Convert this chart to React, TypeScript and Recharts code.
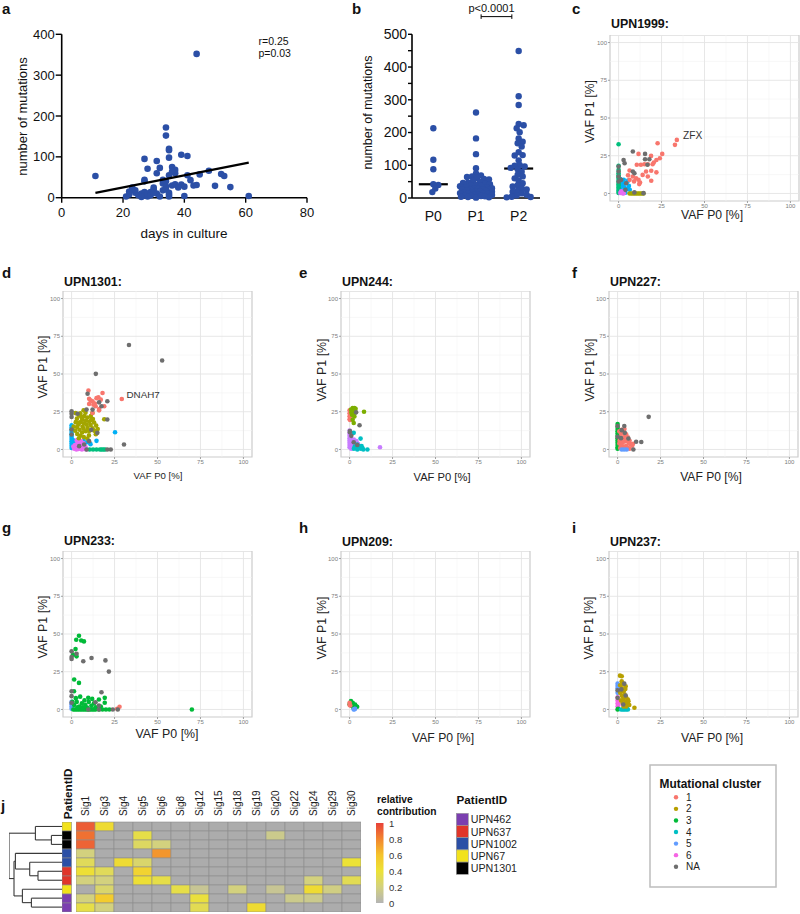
import React from 'react';
import {
  ScatterChart, Scatter, XAxis, YAxis, ReferenceLine, ReferenceArea, BarChart, Bar, Cell,
} from 'recharts';

const FONT = '"Liberation Sans", Arial, Helvetica, sans-serif';
const BLUE = '#2b4fa6';

// ---- panel a: mutations vs days in culture
const cultureDays = [11, 44, 34, 34, 35, 35, 35, 27, 31, 39, 41, 28, 32, 36, 37, 37, 36, 31, 35, 41, 45, 48, 52, 53, 27, 27, 33, 34, 39, 42, 40, 43, 44, 50, 55, 61, 40, 21, 22, 23, 23, 24, 25, 26, 27, 27, 28, 28, 29, 30, 30, 31, 32, 33, 33, 34, 35, 35, 35, 36, 37, 22, 26, 29, 30, 34, 24, 38];
const mutationCount = [53, 352, 172, 152, 120, 116, 98, 95, 90, 105, 102, 71, 73, 75, 68, 60, 64, 60, 55, 55, 57, 66, 58, 53, 44, 40, 44, 40, 32, 43, 27, 30, 31, 29, 26, 4, 4, 3, 15, 20, 25, 12, 6, 10, 14, 5, 3, 10, 14, 20, 25, 10, 3, 18, 35, 20, 8, 12, 3, 30, 33, 8, 2, 6, 12, 28, 18, 25];
const fitDays = [11, 61];
const fitCounts = [12, 86];

// ---- panel b: mutations per passage
const passageNames = ['P0', 'P1', 'P2'];
const mutP0 = [213, 117, 88, 40, 42, 18, 29];
const mutP1 = [261, 182, 134, 91, 75, 69, 66, 64, 61, 58, 57, 52, 50, 47, 46, 44, 42, 41, 38, 37, 36, 33, 32, 30, 29, 28, 27, 26, 26, 25, 24, 22, 21, 20, 19, 18, 17, 15, 14, 14, 12, 11, 10, 9, 8, 7, 6, 5, 4, 3, 2, 1];
const mutP2 = [449, 311, 284, 226, 222, 213, 201, 182, 172, 167, 157, 140, 131, 130, 115, 101, 99, 96, 92, 88, 80, 71, 66, 60, 53, 45, 39, 35, 30, 26, 22, 19, 14, 10, 8, 4, 3, 2];

// ---- panels c-i: VAF P0 vs VAF P1, [vafP0, vafP1, cluster]
type Pt = [number, number, string];
const upn1999: Pt[] = [
  [33.9, 35.5, '1'], [32.8, 32.2, '1'], [22.7, 33.3, '1'], [25.4, 26.2, '1'], [24, 23.3, '1'], [22, 22.2, '1'], [18.9, 24.9, '1'], [11.6, 26.2, '1'], [19.8, 19.4, '1'], [17, 19.4, '1'], [15, 19.4, '1'], [13, 19, '1'], [10.6, 19, '1'], [16, 14.5, '1'], [19, 15, '1'], [22, 14, '1'], [19, 8.4, '1'], [8.3, 11.2, '1'], [10.2, 10, '1'], [11.6, 9, '1'], [12.5, 7.3, '1'], [9, 8, '1'], [6.4, 9, '1'], [6.4, 15.2, '1'], [14, 12.3, '1'], [17, 11.2, '1'], [12, 6.2, '1'], [20.5, 20.5, '1'], [5.5, 12, '1'],
  [8.3, 27.8, 'NA'], [3.5, 20, 'NA'], [2.9, 22.2, 'NA'], [15.4, 26.2, 'NA'], [15.4, 22.7, 'NA'], [17.9, 22.7, 'NA'], [16.8, 19, 'NA'], [9.2, 13.4, 'NA'], [8.3, 14.5, 'NA'], [4, 2.4, 'NA'], [9.2, 0.7, 'NA'], [14.5, 0.2, 'NA'], [1.5, 9, 'NA'], [0, 17.8, 'NA'], [0, 14.5, 'NA'], [0, 11.2, 'NA'], [0, 8, 'NA'], [4.4, 6.8, 'NA'],
  [0, 32.6, '3'], [0, 18.3, '3'], [0, 15.6, '3'], [0, 13.4, '3'], [0, 12, '3'], [0, 10.5, '3'], [0, 9.5, '3'], [0, 8.2, '3'], [0, 7, '3'], [0, 6, '3'], [0, 5, '3'], [0, 4, '3'], [0, 3, '3'], [0, 2, '3'], [0, 1, '3'], [0, 0.3, '3'],
  [1, 9.5, '4'], [2, 8, '4'], [3, 9, '4'], [4.5, 7, '4'], [5.5, 8.5, '4'], [1.5, 6, '4'], [2.5, 5, '4'], [3.5, 4, '4'], [5, 3, '4'], [6, 5, '4'], [1, 3, '4'], [2, 2, '4'], [3, 1, '4'], [4, 0.5, '4'], [2.8, 6.5, '4'], [6.5, 2.5, '4'],
  [6.4, 0, '2'], [7.5, 0, '2'], [8.5, 0, '2'], [9.5, 0, '2'], [10.5, 0, '2'], [11.5, 0, '2'], [12.5, 0, '2'], [13.5, 0, '2'], [14.5, 0, '2'],
  [1, 0.3, '5'], [2, 0.8, '5'], [3, 0.2, '5'], [1.5, 1.4, '5'], [2.5, 0, '5'],
];
const upn1301: Pt[] = [
  [33.4, 69.2, 'NA'], [52.7, 58.9, 'NA'], [14.1, 50.1, 'NA'], [9.3, 36.9, 'NA'], [16, 31.2, 'NA'], [20.8, 31.9, 'NA'], [17.4, 28.6, 'NA'], [12.2, 26.4, 'NA'], [8.7, 26.4, 'NA'], [0, 25.3, 'NA'], [0, 23.7, 'NA'], [3.5, 23.7, 'NA'], [20.8, 19.8, 'NA'], [15, 11, 'NA'], [30.5, 3.3, 'NA'], [20.8, 0, 'NA'], [22.8, 0, 'NA'], [8.7, 0, 'NA'], [4.4, 2.2, 'NA'], [7.3, 3.3, 'NA'], [10.2, 5.5, 'NA'], [0, 13.2, 'NA'], [0, 9.9, 'NA'], [0, 21.5, 'NA'], [11.5, 13, 'NA'],
  [9.8, 39.1, '1'], [18, 37.4, '1'], [29.2, 33.4, '1'], [10.2, 33.6, '1'], [12.2, 31.9, '1'], [14.5, 34, '1'], [15.6, 34.5, '1'], [17, 33, '1'], [10.2, 30.1, '1'], [12.7, 29.7, '1'], [16, 26.8, '1'], [14, 28.6, '1'], [19, 28.6, '1'], [12.2, 24.2, '1'], [16, 25.9, '1'], [11, 32.5, '1'], [13.5, 30.5, '1'],
  [2.1, 12.4, '2'], [3.2, 14.8, '2'], [4.1, 16.5, '2'], [5.3, 18.2, '2'], [6.2, 19.8, '2'], [7.4, 22.1, '2'], [8.1, 24.3, '2'], [2.4, 18.1, '2'], [3.1, 20.4, '2'], [4.3, 22.6, '2'], [5.1, 23.9, '2'], [6.4, 15.2, '2'], [7.2, 17.3, '2'], [8.4, 19.1, '2'], [9.2, 21.2, '2'], [10.3, 18.4, '2'], [11.1, 16.2, '2'], [12.2, 14.1, '2'], [13.3, 12.4, '2'], [14.1, 10.1, '2'], [9.3, 14.2, '2'], [10.2, 12.3, '2'], [11.2, 22.1, '2'], [12.4, 20.2, '2'], [13.1, 17.9, '2'], [14.3, 15.8, '2'], [15.2, 13.6, '2'], [3.3, 10.2, '2'], [5.2, 9.1, '2'], [7.1, 8.2, '2'], [9.1, 7.3, '2'], [6.1, 11.2, '2'], [8.2, 12.1, '2'], [4.2, 7.4, '2'], [10.1, 9.3, '2'], [12.1, 24.2, '2'], [19, 20, '2'], [14, 12, '2'], [1.2, 15.1, '2'], [2.3, 24.1, '2'], [7, 26, '2'], [4.6, 13.1, '2'], [5.8, 21.4, '2'], [8.8, 16.4, '2'], [11.4, 19.6, '2'], [3.8, 17.6, '2'], [6.9, 13.7, '2'],
  [0, 16, '4'], [0, 14.5, '4'], [0, 13, '4'], [0, 11.5, '4'], [0, 10, '4'], [0, 8.5, '4'], [0, 7, '4'], [0, 5.5, '4'], [0, 4, '4'], [0, 2.5, '4'], [0, 1, '4'], [1, 6, '4'], [2, 4.5, '4'], [3, 5.2, '4'], [5, 4, '4'], [7, 5.5, '4'], [9, 4.8, '4'], [11, 3.5, '4'], [14.5, 5.7, '4'], [25.3, 11.4, '4'], [1.5, 2, '4'], [4, 1.5, '4'], [6, 2.8, '4'], [8, 1, '4'],
  [10.5, 0, '3'], [12.5, 0, '3'], [14.5, 0, '3'], [16.5, 0, '3'], [17.5, 0, '3'], [18.5, 0, '3'], [19.5, 0, '3'],
  [1.5, 0.5, '5'], [2.5, 1.5, '5'], [3, 3, '5'], [3.5, 4.5, '5'], [4, 0.3, '5'], [4.5, 2, '5'], [5, 3.5, '5'], [5.5, 5.5, '5'], [6, 1, '5'], [6.5, 2.5, '5'], [7, 4, '5'], [7.5, 0.5, '5'], [8, 2, '5'], [2, 3, '5'], [3, 6, '5'], [1, 2, '5'], [4.5, 5.8, '5'], [6, 0, '5'], [8.5, 0, '5'], [5, 0.8, '5'], [2.8, 0, '5'], [7, 1.8, '5'],
];
const upn244: Pt[] = [
  [0, 20, '1'], [0, 22, '1'], [0, 24, '1'], [0, 26, '1'], [0.5, 21, '1'], [0.5, 25, '1'], [1, 23, '1'], [0.3, 19.5, '1'],
  [1.8, 27.4, '2'], [2.8, 27.5, '2'], [0.8, 26.5, '2'], [2.2, 25.5, '2'], [3.2, 24.5, '2'], [1.4, 23, '2'], [1.8, 19.7, '2'], [2.4, 17.5, '2'], [8.4, 25, '2'], [2.8, 21.9, '2'], [1, 24.5, '2'], [3.5, 27, '2'], [2, 22.8, '2'],
  [3.8, 24.6, 'NA'], [5.8, 16, 'NA'], [0.2, 11.4, 'NA'], [0.2, 12.2, 'NA'], [2.4, 4.8, 'NA'], [1, 9, 'NA'], [4.5, 3, 'NA'],
  [0, 12.5, '4'], [0, 10.5, '4'], [0, 9, '4'], [0, 7.5, '4'], [0, 6, '4'], [0, 4.5, '4'], [0, 3, '4'], [0, 1.5, '4'], [0.5, 8, '4'], [1, 5.5, '4'], [1.5, 3.5, '4'], [2, 2, '4'], [2.5, 6.5, '4'], [3, 4, '4'], [3.5, 2.5, '4'], [4.5, 1, '4'], [4, 5.5, '4'], [1, 0.5, '4'], [5, 3.5, '4'], [17.7, 1.5, '4'],
  [2.4, 11, '3'], [6.4, 7.2, '3'], [4.4, 3.3, '3'], [2.5, 0.5, '3'], [3.5, 1, '3'], [4.5, 0, '3'], [5.5, 1.5, '3'], [6.5, 0.5, '3'], [7.5, 1, '3'], [8, 0, '3'], [3, 2, '3'], [5, 2.5, '3'], [6, 1.8, '3'], [10.4, 0, '3'], [7, 2.2, '3'],
];
const upn227: Pt[] = [
  [0, 16.8, '2'], [0, 15, '2'], [0, 13.5, '2'], [0, 12, '2'], [0, 10.5, '2'], [0, 9, '2'], [0, 7.5, '2'], [0, 6, '2'], [0, 4.5, '2'], [0, 3, '2'], [0, 1.5, '2'], [0, 0.5, '2'],
  [1, 12, '1'], [2, 10.5, '1'], [3, 11.5, '1'], [4, 9, '1'], [5, 10, '1'], [1.5, 8, '1'], [2.5, 6.5, '1'], [3.5, 7.5, '1'], [4.5, 5.5, '1'], [5.5, 6, '1'], [6.5, 4.5, '1'], [7.5, 3.5, '1'], [8.5, 2.5, '1'], [9, 3.8, '1'], [1, 4, '1'], [2, 3, '1'], [3, 2, '1'], [4, 1, '1'], [5, 2.5, '1'], [6, 1.2, '1'], [7, 0.5, '1'], [1.5, 1, '1'], [3, 4.5, '1'], [6, 8, '1'], [7, 5.8, '1'], [2.5, 13, '1'], [4, 13.5, '1'], [1.2, 6, '1'],
  [2.4, 0, '3'], [5.3, 0, '3'], [3.8, 0, '3'],
  [18.1, 21.6, 'NA'], [3.9, 15.5, 'NA'], [0, 15.5, 'NA'], [10.8, 5.1, 'NA'], [13.8, 4.9, 'NA'], [9.2, 0, 'NA'], [2.4, 12.8, 'NA'], [6.3, 7.3, 'NA'], [0, 8.4, 'NA'], [4.2, 11, 'NA'], [2, 7.5, 'NA'],
];
const upn233: Pt[] = [
  [4.3, 48.8, '2'], [2.7, 46.2, '2'], [5.6, 45.7, '2'], [7.2, 45.1, '2'], [2.3, 40, '2'], [0.8, 36.3, '2'], [2.9, 35.2, '2'], [1.5, 19.8, '2'], [4.3, 17.6, '2'], [1.4, 12.1, '2'], [70, 0, '2'], [19.3, 7.7, '2'], [19.3, 4.4, '2'], [15.9, 6.6, '2'], [9.7, 7.7, '2'],
  [1, 0, '2'], [2, 0, '2'], [3, 0, '2'], [4, 0, '2'], [5, 0, '2'], [6, 0, '2'], [7, 0, '2'], [8, 0, '2'], [9, 0, '2'], [10, 0, '2'], [11, 0, '2'], [12, 0, '2'], [13, 0, '2'], [14, 0, '2'], [16, 0, '2'], [18, 0, '2'], [20, 0, '2'], [22, 0, '2'],
  [1.5, 3, '2'], [3, 5, '2'], [4.5, 2, '2'], [6, 4, '2'], [7.5, 6, '2'], [2.5, 7.5, '2'], [5, 8.5, '2'], [8, 3, '2'], [10, 5, '2'], [11.5, 2.5, '2'], [13, 4, '2'], [12, 7, '2'], [3.5, 1.5, '2'], [6.5, 1.5, '2'], [9, 1.2, '2'], [14, 1.5, '2'], [17, 2, '2'], [0.5, 5, '2'],
  [0, 38.5, 'NA'], [0, 34.7, 'NA'], [0, 33.4, 'NA'], [2.9, 36.9, 'NA'], [6.8, 31.9, 'NA'], [11.6, 34.1, 'NA'], [19.7, 32.5, 'NA'], [21.7, 25.1, 'NA'], [0, 12.1, 'NA'], [0, 8.8, 'NA'], [17.4, 11.4, 'NA'], [13.9, 4.8, 'NA'], [15.9, 2.6, 'NA'], [15.9, 0, 'NA'], [9.7, 0, 'NA'], [24, 0, 'NA'], [26.9, 0, 'NA'], [0, 4.4, 'NA'],
  [27.9, 1.8, '1'], [26.5, 0.4, '1'],
  [0, 0.5, '3'], [0, 2, '3'], [0, 3.5, '3'], [0, 5, '3'],
];
const upn209: Pt[] = [
  [0.8, 5.5, '2'], [1.8, 4.4, '2'], [3.2, 3.3, '2'], [4.4, 1.8, '2'], [0, 3.5, '2'], [2.2, 1.1, '2'], [1.2, 2.5, '2'], [3.6, 2.2, '2'],
  [0, 4.4, '1'], [0.4, 2.6, '1'], [0, 3, '1'],
  [2.4, 0, '3'], [3.2, 0.4, '3'], [2.8, 0.2, '3'],
];
const upn237: Pt[] = [
  [1.4, 22.4, '2'], [2.4, 22, '2'], [4.7, 15.4, '2'], [2.4, 18.7, '2'], [1.5, 16, '2'], [2.5, 14, '2'], [3.5, 12, '2'], [1.5, 11, '2'], [2.5, 9, '2'], [3.5, 7, '2'], [4.5, 5, '2'], [5.5, 4, '2'], [2, 6, '2'], [3, 4, '2'], [4, 3, '2'], [5, 2, '2'], [6, 6.5, '2'], [6.3, 5.5, '2'], [9.8, 1.1, '2'], [3, 16.8, '2'], [4, 10, '2'], [5, 8, '2'], [2, 12.5, '2'], [3.5, 2, '2'], [4.5, 13.5, '2'], [6.8, 3, '2'],
  [3.9, 17.1, 'NA'], [0, 12.7, 'NA'], [0, 7.7, 'NA'], [4.7, 9.2, 'NA'], [3.3, 3.3, 'NA'], [2.2, 13.3, 'NA'],
  [0, 17.1, '5'], [0, 15.5, '5'], [0, 14, '5'], [0, 11, '5'], [0.4, 16, '5'],
  [0, 2, '6'], [0, 4, '6'], [0, 6, '6'], [0, 8, '6'], [0.6, 5, '6'], [0.5, 3, '6'],
  [0, 0, '3'], [0.3, 0.4, '3'],
  [2, 0, '4'], [3, 0, '4'], [4, 0, '4'], [5, 0, '4'], [6, 0, '4'], [3.5, 0.4, '4'], [5.5, 0.5, '4'],
];

const hue3 = ['#F8766D', '#00BA38', '#619CFF'];
const hue4 = ['#F8766D', '#7CAE00', '#00BFC4', '#C77CFF'];
const hue5 = ['#F8766D', '#A3A500', '#00BF7D', '#00B0F6', '#E76BF3'];
const hue6 = ['#F8766D', '#B79F00', '#00BA38', '#00BFC4', '#619CFF', '#F564E3'];
const naGrey = '#6e6e6e';
const clusterLabels = ['1', '2', '3', '4', '5', '6', 'NA'];

// ---- panel j: signature heatmap
const sigNames = ['Sig1', 'Sig3', 'Sig4', 'Sig5', 'Sig6', 'Sig8', 'Sig12', 'Sig15', 'Sig18', 'Sig19', 'Sig20', 'Sig22', 'Sig24', 'Sig29', 'Sig30'];
const rowPatients = ['UPN67', 'UPN1301', 'UPN1301', 'UPN1002', 'UPN1002', 'UPN637', 'UPN637', 'UPN67', 'UPN462', 'UPN462'];
const contrib = [
  [0.92, 0.45, 0, 0, 0, 0, 0, 0, 0, 0, 0, 0, 0, 0, 0],
  [0.86, 0, 0, 0.35, 0, 0, 0, 0, 0, 0, 0.15, 0, 0, 0, 0],
  [0.9, 0, 0, 0.28, 0.2, 0, 0, 0, 0, 0, 0, 0, 0, 0, 0],
  [0.2, 0, 0, 0, 0.75, 0, 0, 0, 0, 0, 0, 0, 0, 0, 0],
  [0.3, 0, 0.45, 0.25, 0, 0, 0, 0, 0, 0, 0, 0, 0, 0, 0.4],
  [0.42, 0.3, 0, 0.5, 0, 0, 0, 0, 0, 0, 0, 0, 0, 0, 0],
  [0.2, 0.2, 0, 0.42, 0.35, 0, 0, 0, 0, 0, 0, 0, 0.2, 0, 0.32],
  [0, 0.25, 0, 0, 0, 0.35, 0.12, 0, 0.2, 0, 0.12, 0, 0.45, 0.18, 0],
  [0.2, 0.55, 0, 0, 0, 0, 0.38, 0, 0, 0, 0, 0.15, 0.15, 0, 0],
  [0.35, 0.2, 0, 0, 0, 0, 0.32, 0, 0, 0.45, 0, 0, 0, 0, 0],
];
const patientIds = ['UPN462', 'UPN637', 'UPN1002', 'UPN67', 'UPN1301'];
const patientColors = ['#7b3fb0', '#e0352a', '#2b4fa6', '#f2e21c', '#000000'];
// dendrogram merges: [childA, childB, height]; leaves are rows 0-9, merge k gets id 10+k
const dendroMerges: [number, number, number][] = [
  [1, 2, 10.6], [0, 10, 26.6], [5, 6, 24], [4, 12, 32.3], [8, 9, 30.6],
  [7, 14, 39.6], [3, 13, 46.6], [16, 15, 48], [11, 17, 53],
];
const legendTicks = [1, 0.8, 0.6, 0.4, 0.2, 0];
const heatStops: [number, string][] = [[0, '#b4b4b4'], [0.2, '#d3d17e'], [0.4, '#ece236'], [0.6, '#f5c42b'], [0.8, '#f2862f'], [1, '#e8413a']];

function heatColor(v: number) {
  if (v <= 0) return '#acacac';
  for (let i = 1; i < heatStops.length; i++) {
    const [v1, c1] = heatStops[i];
    if (v <= v1) {
      const [v0, c0] = heatStops[i - 1];
      const t = (v - v0) / (v1 - v0);
      const a = [1, 3, 5].map((k) => parseInt(c0.slice(k, k + 2), 16));
      const b = [1, 3, 5].map((k) => parseInt(c1.slice(k, k + 2), 16));
      return `rgb(${a.map((x, j) => Math.round(x + (b[j] - x) * t)).join(',')})`;
    }
  }
  return heatStops[heatStops.length - 1][1];
}

const circle = (r: number, fill: string) => (props: any) =>
  props.cx == null ? <g /> : <circle cx={props.cx} cy={props.cy} r={r} fill={fill} />;

// simple deterministic beeswarm: offsets (in category units) so dots don't overlap much
function swarm(values: number[]) {
  const pxX = 42.7, pxY = 0.3274, minD = 4.6, maxOff = 16;
  const placed: { ox: number; py: number }[] = [];
  const out: number[] = new Array(values.length).fill(0);
  const order = values.map((_, i) => i).sort((a, b) => values[b] - values[a]);
  for (const i of order) {
    const py = values[i] * pxY;
    let chosen = 0, bestGap = -1;
    for (let k = 0; k < 80; k++) {
      const off = (k % 2 ? 1 : -1) * Math.ceil(k / 2);
      if (Math.abs(off) > maxOff) break;
      const gap = placed.reduce((m, p) => Math.min(m, Math.hypot(p.ox - off, p.py - py)), 1e9);
      if (gap >= minD) { chosen = off; bestGap = gap; break; }
      if (gap > bestGap) { bestGap = gap; chosen = off; }
    }
    placed.push({ ox: chosen, py });
    out[i] = chosen / pxX;
  }
  return out;
}

const median = (a: number[]) => {
  const s = [...a].sort((x, y) => x - y);
  const m = Math.floor(s.length / 2);
  return s.length % 2 ? s[m] : (s[m - 1] + s[m]) / 2;
};

const aPoints = cultureDays.map((d, i) => ({ x: d, y: mutationCount[i] }));
const fitPoints = fitDays.map((d, i) => ({ x: d, y: fitCounts[i] }));
const bGroups = [mutP0, mutP1, mutP2];
const bPoints = bGroups.map((vals, g) => {
  const offs = swarm(vals);
  return vals.map((v, i) => ({ x: g + offs[i], y: v }));
});

const PW = 189, PH = 166;
const grid = [0, 25, 50, 75, 100];
const minorGrid = [12.5, 37.5, 62.5, 87.5];
const smallTick = { fontSize: 6, fill: '#7d7d7d' };

const vafPanels = [
  { title: 'UPN1999:', pts: upn1999, pal: hue5, left: 610, top: 35, order: ['4', '3', '2', '5', '1', 'NA'] },
  { title: 'UPN1301:', pts: upn1301, pal: hue5, left: 63, top: 291, order: ['4', '5', '2', '3', '1', 'NA'] },
  { title: 'UPN244:', pts: upn244, pal: hue4, left: 341, top: 291, order: ['4', '3', '1', '2', 'NA'] },
  { title: 'UPN227:', pts: upn227, pal: hue3, left: 609, top: 291, order: ['2', '1', '3', 'NA'] },
  { title: 'UPN233:', pts: upn233, pal: hue3, left: 63, top: 551, order: ['3', '2', '1', 'NA'] },
  { title: 'UPN209:', pts: upn209, pal: hue3, left: 341, top: 551, order: ['2', '1', '3'] },
  { title: 'UPN237:', pts: upn237, pal: hue6, left: 609, top: 551, order: ['5', '6', '3', '4', '2', 'NA'] },
];
// label placement for each panel: title y, y-title centre, x-title centre and size
const vafLabels = [
  { ty: 23.5, yx: 590, yy: 111.5, xx: 712, xy: 215, xs: 12.2 },
  { ty: 281.5, yx: 43, yy: 367, xx: 158, xy: 475, xs: 9.6 },
  { ty: 281.5, yx: 322, yy: 370, xx: 442, xy: 477, xs: 11.2 },
  { ty: 281.5, yx: 590, yy: 370, xx: 711, xy: 477, xs: 12.1 },
  { ty: 540.5, yx: 43, yy: 627, xx: 167, xy: 734, xs: 12.4 },
  { ty: 541.5, yx: 322, yy: 628, xx: 443, xy: 738, xs: 12.2 },
  { ty: 541.5, yx: 589, yy: 628, xx: 712, xy: 738, xs: 12.2 },
];

function VafPanel({ p }: { p: any }) {
  const color = (k: string) => (k === 'NA' ? naGrey : p.pal[Number(k) - 1]);
  return (
    <div style={{ position: 'absolute', left: p.left - 22, top: p.top }}>
      <ScatterChart width={PW + 24} height={PH + 14} margin={{ top: 0, right: 2, bottom: 0, left: 0 }}>
        <XAxis type="number" dataKey="x" domain={[-5, 105]} ticks={grid} interval={0} allowDataOverflow height={14}
          axisLine={false} tickSize={2} tickMargin={1} tickLine={{ stroke: '#a0a0a0' }} tick={smallTick} />
        <YAxis type="number" dataKey="y" domain={[-5, 105]} ticks={grid} interval={0} allowDataOverflow width={22}
          axisLine={false} tickSize={2} tickMargin={1} tickLine={{ stroke: '#a0a0a0' }} tick={smallTick} />
        {minorGrid.map((v) => <ReferenceLine key={'mx' + v} x={v} stroke="#f4f4f4" strokeWidth={0.6} />)}
        {minorGrid.map((v) => <ReferenceLine key={'my' + v} y={v} stroke="#f4f4f4" strokeWidth={0.6} />)}
        {grid.map((v) => <ReferenceLine key={'gx' + v} x={v} stroke="#e4e4e4" strokeWidth={0.9} />)}
        {grid.map((v) => <ReferenceLine key={'gy' + v} y={v} stroke="#e4e4e4" strokeWidth={0.9} />)}
        <ReferenceArea x1={-5} x2={105} y1={-5} y2={105} fill="none" stroke="#cccccc" strokeWidth={1.2} />
        {p.order.map((k: string) => (
          <Scatter key={k} isAnimationActive={false}
            data={p.pts.filter((q: Pt) => q[2] === k).map((q: Pt) => ({ x: q[0], y: q[1] }))}
            shape={circle(2.3, color(k))} />
        ))}
      </ScatterChart>
    </div>
  );
}

const SigTick = (props: any) => {
  const { x, y, payload } = props;
  return (
    <text x={x} y={y} dy={3.5} transform={`rotate(-90 ${x} ${y})`} fontSize={10} fill="#222" textAnchor="start">
      {sigNames[Math.floor(payload.value)]}
    </text>
  );
};

const heatRows = contrib.map((_, i) => {
  const r: any = { row: i };
  sigNames.forEach((s) => { r[s] = 1; });
  return r;
});
const patientRows = rowPatients.map((_, i) => ({ row: i, v: 1 }));

// dendrogram segments from merges
function dendroSegments() {
  const ys: number[] = rowPatients.map((_, i) => i);
  const hs: number[] = rowPatients.map(() => 0);
  const segs: { x1: number; y1: number; x2: number; y2: number }[] = [];
  dendroMerges.forEach(([a, b, h]) => {
    segs.push({ x1: hs[a], y1: ys[a], x2: h, y2: ys[a] });
    segs.push({ x1: hs[b], y1: ys[b], x2: h, y2: ys[b] });
    segs.push({ x1: h, y1: ys[a], x2: h, y2: ys[b] });
    ys.push((ys[a] + ys[b]) / 2);
    hs.push(h);
  });
  return segs;
}

const Txt = ({ x, y, s, size = 12, bold = false, anchor = 'start', rot = false, fill = '#111' }: any) => (
  <text x={x} y={y} fontSize={size} fontWeight={bold ? 700 : 400} textAnchor={anchor} fill={fill}
    dominantBaseline="central" transform={rot ? `rotate(-90 ${x} ${y})` : undefined}>{s}</text>
);

export default function App() {
  const segs = dendroSegments();
  const bAxis = { stroke: '#000', strokeWidth: 1.6 };
  return (
    <div style={{ position: 'absolute', left: 0, top: 0, width: 800, height: 914, background: '#fff', fontFamily: FONT, overflow: 'hidden' }}>
      {/* a */}
      <div style={{ position: 'absolute', left: 0, top: 0 }}>
        <ScatterChart width={320} height={240} margin={{ top: 34.3, right: 13, bottom: 12.3, left: 0 }}>
          <XAxis type="number" dataKey="x" domain={[0, 80]} ticks={[0, 20, 40, 60, 80]} interval={0} height={30}
            axisLine={bAxis} tickLine={{ stroke: '#000', strokeWidth: 1.4 }} tickSize={5} tickMargin={5} tick={{ fontSize: 13, fill: '#111' }} />
          <YAxis type="number" dataKey="y" domain={[0, 400]} ticks={[0, 100, 200, 300, 400]} interval={0} width={61.7}
            axisLine={bAxis} tickLine={{ stroke: '#000', strokeWidth: 1.4 }} tickSize={6} tickMargin={1} tick={{ fontSize: 13, fill: '#111' }} />
          <Scatter data={aPoints} shape={circle(3.3, BLUE)} isAnimationActive={false} />
          <Scatter data={fitPoints} line={{ stroke: '#000', strokeWidth: 2.3 }} shape={() => <g />} isAnimationActive={false} />
        </ScatterChart>
      </div>
      {/* b */}
      <div style={{ position: 'absolute', left: 340, top: 0 }}>
        <ScatterChart width={210} height={240} margin={{ top: 34.3, right: 10, bottom: 12, left: 0 }}>
          <XAxis type="number" dataKey="x" domain={[-0.5, 2.5]} ticks={[0, 1, 2]} interval={0} height={30}
            tickFormatter={(v: number) => passageNames[v]} axisLine={bAxis} tickLine={false} tickMargin={7}
            tick={{ fontSize: 14, fill: '#111' }} />
          <YAxis type="number" dataKey="y" domain={[0, 500]} ticks={[0, 50, 100, 150, 200, 250, 300, 350, 400, 450, 500]} interval={0}
            tickFormatter={(v: number) => (v % 100 === 0 ? String(v) : '')} width={72}
            axisLine={bAxis} tickLine={{ stroke: '#000', strokeWidth: 1.4 }} tickSize={4} tickMargin={1} tick={{ fontSize: 14, fill: '#111' }} />
          {bPoints.map((pts, g) => (
            <Scatter key={g} data={pts} shape={circle(3.2, BLUE)} isAnimationActive={false} />
          ))}
          {bGroups.map((vals, g) => (
            <ReferenceLine key={'m' + g} stroke="#000" strokeWidth={2.2}
              segment={[{ x: g - 0.34, y: median(vals) }, { x: g + 0.34, y: median(vals) }]} />
          ))}
          <ReferenceLine ifOverflow="visible" stroke="#000" strokeWidth={1}
            segment={[{ x: 1.12, y: 554 }, { x: 1.84, y: 554 }]} />
          <ReferenceLine ifOverflow="visible" stroke="#000" strokeWidth={1}
            segment={[{ x: 1.12, y: 547 }, { x: 1.12, y: 561 }]} />
          <ReferenceLine ifOverflow="visible" stroke="#000" strokeWidth={1}
            segment={[{ x: 1.84, y: 547 }, { x: 1.84, y: 561 }]} />
        </ScatterChart>
      </div>
      {/* c - i */}
      {vafPanels.map((p) => <VafPanel key={p.title} p={p} />)}
      {/* j: dendrogram */}
      <div style={{ position: 'absolute', left: 9.3, top: 822.2 }}>
        <ScatterChart width={53} height={89.6} margin={{ top: 0, right: 0, bottom: 0, left: 0 }}>
          <XAxis type="number" dataKey="x" domain={[0, 53]} reversed hide allowDataOverflow />
          <YAxis type="number" dataKey="y" domain={[-0.5, 9.5]} reversed hide allowDataOverflow />
          <Scatter data={rowPatients.map((_, i) => ({ x: 0, y: i }))} shape={() => <g />} isAnimationActive={false} />
          {segs.map((s, i) => (
            <ReferenceLine key={i} ifOverflow="visible" stroke="#3a3a3a" strokeWidth={1.1}
              segment={[{ x: s.x1, y: s.y1 }, { x: s.x2, y: s.y2 }]} />
          ))}
        </ScatterChart>
      </div>
      {/* j: patient column */}
      <div style={{ position: 'absolute', left: 62, top: 822 }}>
        <BarChart layout="vertical" width={9.5} height={90} data={patientRows} margin={{ top: 0, right: 0, bottom: 0, left: 0 }} barCategoryGap={0}>
          <XAxis type="number" domain={[0, 1]} hide />
          <YAxis type="category" dataKey="row" hide />
          <Bar dataKey="v" isAnimationActive={false} stroke="#8a8a8a" strokeWidth={0.6}>
            {rowPatients.map((pid, i) => <Cell key={i} fill={patientColors[patientIds.indexOf(pid)]} />)}
          </Bar>
        </BarChart>
      </div>
      {/* j: heatmap */}
      <div style={{ position: 'absolute', left: 76, top: 780 }}>
        <BarChart layout="vertical" width={285} height={132} data={heatRows} margin={{ top: 0, right: 0, bottom: 0, left: 0 }} barCategoryGap={0} barGap={0}>
          <XAxis type="number" domain={[0, 15]} ticks={sigNames.map((_, i) => i + 0.5)} interval={0} orientation="top" height={42}
            axisLine={false} tickLine={false} tickSize={4} tickMargin={2} tick={(p: any) => <SigTick {...p} />} allowDataOverflow />
          <YAxis type="category" dataKey="row" hide />
          {sigNames.map((s, j) => (
            <Bar key={s} dataKey={s} stackId="h" isAnimationActive={false} stroke="#8f8f8f" strokeWidth={0.6}>
              {contrib.map((r, i) => <Cell key={i} fill={heatColor(r[j])} />)}
            </Bar>
          ))}
        </BarChart>
      </div>
      {/* text + legends */}
      <svg width={800} height={914} style={{ position: 'absolute', left: 0, top: 0, pointerEvents: 'none' }}>
        <defs>
          <linearGradient id="heatGrad" x1="0" y1="1" x2="0" y2="0">
            {heatStops.map(([v, c]) => <stop key={v} offset={`${v * 100}%`} stopColor={c} />)}
          </linearGradient>
        </defs>
        {/* panel letters */}
        {[['a', 2, 14], ['b', 352, 14], ['c', 572, 14], ['d', 2, 278], ['e', 299, 278], ['f', 572, 278], ['g', 2, 533], ['h', 299, 533], ['i', 572, 533], ['j', 1, 810.5]].map(([l, x, y]) => (
          <text key={l as string} x={x as number} y={y as number} fontSize={15} fontWeight={700} fill="#111">{l}</text>
        ))}
        {/* a */}
        <Txt x={22} y={116.5} s="number of mutations" size={13} anchor="middle" rot />
        <Txt x={184} y={233} s="days in culture" size={13.5} anchor="middle" />
        <Txt x={258.5} y={41} s="r=0.25" size={10.5} />
        <Txt x={258.5} y={52.5} s="p=0.03" size={10.5} />
        {/* b */}
        <Txt x={368} y={112.5} s="number of mutations" size={12.5} anchor="middle" rot />
        <Txt x={491.5} y={7.5} s="p<0.0001" size={11} anchor="middle" />
        {/* c - i */}
        {vafPanels.map((p, i) => {
          const L = vafLabels[i];
          return (
            <g key={p.title}>
              <Txt x={p.left + 1} y={L.ty} s={p.title} size={12.4} bold />
              <Txt x={L.yx} y={L.yy} s="VAF P1 [%]" size={12.4} anchor="middle" rot fill="#222" />
              <Txt x={L.xx} y={L.xy} s="VAF P0 [%]" size={L.xs} anchor="middle" fill="#222" />
            </g>
          );
        })}
        <Txt x={683} y={135} s="ZFX" size={10.2} fill="#333" />
        <Txt x={126.5} y={394} s="DNAH7" size={9.8} fill="#333" />
        {/* j */}
        <Txt x={67} y={794} s="PatientID" size={11.7} bold anchor="middle" rot />
        <Txt x={377} y={799} s="relative" size={10.2} bold />
        <Txt x={377} y={811} s="contribution" size={10.2} bold />
        <rect x={376} y={823} width={7.5} height={80} fill="url(#heatGrad)" />
        {legendTicks.map((v, i) => (
          <Txt key={v} x={389} y={823 + i * 16} s={String(v)} size={9.5} fill="#333" />
        ))}
        <Txt x={456.5} y={799.5} s="PatientID" size={11.7} bold />
        {patientIds.map((pid, i) => (
          <g key={pid}>
            <rect x={456.3} y={813.3 + i * 12.2} width={12} height={12.2} fill={patientColors[i]} stroke="#999" strokeWidth={0.6} />
            <Txt x={470.7} y={819.4 + i * 12.2} s={pid} size={10.7} fill="#222" />
          </g>
        ))}
        <rect x={650} y={765} width={126} height={122} fill="none" stroke="#bdbdbd" strokeWidth={1.5} />
        <Txt x={659.5} y={784} s="Mutational cluster" size={11.9} bold />
        {clusterLabels.map((k, i) => (
          <g key={k}>
            <circle cx={676} cy={797.3 + i * 11.57} r={2.2} fill={k === 'NA' ? naGrey : hue6[i]} />
            <Txt x={686} y={797.3 + i * 11.57} s={k} size={10} fill="#222" />
          </g>
        ))}
      </svg>
    </div>
  );
}
